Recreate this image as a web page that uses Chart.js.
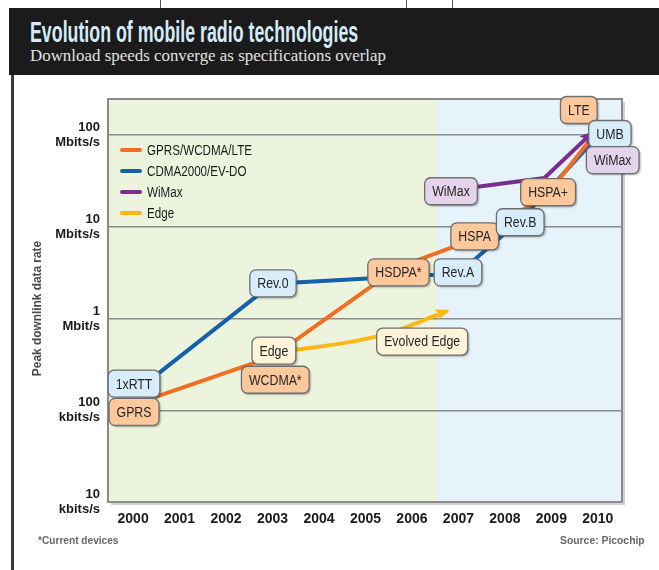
<!DOCTYPE html>
<html>
<head>
<meta charset="utf-8">
<script src="https://cdn.jsdelivr.net/npm/chart.js@4.4.1/dist/chart.umd.min.js"></script>
<style>
    html, body { margin: 0; padding: 0; background: #fff; }
    #page { position: relative; width: 659px; height: 570px; overflow: hidden; }
    #header { position: absolute; left: 9px; top: 8px; width: 650px; height: 67px; background: #1b1b1b; }
    #title { position: absolute; left: 21px; top: 7px; font: bold 30px "Liberation Sans", sans-serif;
        color: #d5ebf8; white-space: nowrap; transform-origin: left top; }
    #subtitle { position: absolute; left: 21px; top: 38px; font: 17px "Liberation Serif", serif; color: #e2e2e2;
        white-space: nowrap; transform-origin: left top; }
    #sidebar { position: absolute; left: 11px; top: 75px; width: 3px; height: 495px; background: #3a3a3a; }
    .crop { position: absolute; top: 0; width: 1px; height: 8px; background: #555; }
    #chartWrap { position: absolute; left: 0; top: 75px; width: 659px; height: 495px; }
    .note { position: absolute; top: 535px; font: bold 10px "Liberation Sans", sans-serif; color: #666; white-space: nowrap;
        transform-origin: left top; }
</style>
</head>
<body>
<div id="page">
    <div class="crop" style="left:160px"></div>
    <div class="crop" style="left:406px"></div>
    <div class="crop" style="left:452px"></div>
    <div id="header">
        <span id="title">Evolution of mobile radio technologies</span>
        <span id="subtitle">Download speeds converge as specifications overlap</span>
    </div>
    <div id="sidebar"></div>
    <div id="chartWrap"><canvas id="radioChart" width="659" height="495"></canvas></div>
    <span class="note" id="noteLeft" style="left:38px">*Current devices</span>
    <span class="note" id="noteRight" style="left:560px">Source: Picochip</span>
</div>
<script>
/* ==========================================================================
   Evolution of mobile radio technologies - data
   ========================================================================== */

const xYears = [2000, 2001, 2002, 2003, 2004, 2005, 2006, 2007, 2008, 2009, 2010];
const yTickValues = [10, 100, 1000, 10000, 100000];          // kbit/s
const yTickLabels = [['10', 'kbits/s'], ['100', 'kbits/s'], ['1', 'Mbit/s'], ['10', 'Mbits/s'], ['100', 'Mbits/s']];
const eraSplitYear = 2006.54;                                  // green (past) / blue (future) boundary

const seriesNames = ['GPRS/WCDMA/LTE', 'CDMA2000/EV-DO', 'WiMax', 'Edge'];

const gprsYears = [2000, 2003, 2005.7, 2007.3, 2008.9, 2009.88];
const gprsValues = [115, 384, 3600, 7200, 22000, 95000];

const cdmaYears = [2000, 2003, 2007, 2008.35, 2009.92];
const cdmaValues = [153, 2400, 3100, 12000, 88000];

const wimaxYears = [2006.84, 2008.85, 2009.85];
const wimaxValues = [25000, 34000, 103000];

const edgeYears = [2003, 2005.23, 2006.73];
const edgeValues = [420, 635, 1190];

// technology call-outs, anchored in data space
const boxLabels = ['1xRTT', 'GPRS', 'Rev.0', 'Edge', 'WCDMA*', 'HSDPA*', 'Rev.A', 'HSPA', 'WiMax', 'Rev.B', 'HSPA+', 'LTE', 'UMB', 'WiMax', 'Evolved Edge'];
const boxYears = [2000.02, 2000.02, 2003.01, 2003.03, 2003.06, 2005.71, 2006.99, 2007.35, 2006.84, 2008.33, 2008.93, 2009.59, 2010.26, 2010.32, 2006.22];
const boxValues = [195, 96, 2415, 446, 215, 3184, 3184, 7870, 24400, 11200, 23800, 187500, 102600, 53300, 561];
const boxSeries = ['cdma', 'gprs', 'cdma', 'edge', 'gprs', 'gprs', 'cdma', 'gprs', 'wimax', 'cdma', 'gprs', 'gprs', 'cdma', 'wimax', 'edge'];

/* ==========================================================================
   Styles
   ========================================================================== */

const COLORS = {
    gprs: '#f26f21',
    cdma: '#1560ad',
    wimax: '#7a2c8f',
    edge: '#fdb714',
    grid: '#8c8c8c',
    frame: '#8a8a8a',
    past: '#ecf4de',
    future: '#e7f3fb',
    text: '#1a1a1a'
};

const BOX_FILLS = { gprs: '#fcc89c', cdma: '#d8edfa', wimax: '#e4d4eb', edge: '#fff4da' };
const SANS = '"Liberation Sans", Arial, sans-serif';
const legendOrder = ['gprs', 'cdma', 'wimax', 'edge'];

const toPoints = (xs, ys) => xs.map((x, i) => ({ x: x, y: ys[i] }));

// the original uses a condensed face, so squeeze text horizontally
const condensedText = (ctx, text, x, y, squeeze) => {
    ctx.save();
    ctx.translate(x, y);
    ctx.scale(squeeze, 1);
    ctx.fillText(text, 0, 0);
    ctx.restore();
};

/* ==========================================================================
   Plugins
   ========================================================================== */

const backdropPlugin = {
    id: 'backdrop',
    beforeDraw(chart) {
        const { ctx, chartArea: a, scales } = chart;
        const split = scales.x.getPixelForValue(eraSplitYear);
        ctx.save();
        ctx.fillStyle = 'rgba(0,0,0,0.18)';
        ctx.fillRect(a.left + 3, a.top + 3, a.right - a.left, a.bottom - a.top);
        ctx.fillStyle = COLORS.past;
        ctx.fillRect(a.left, a.top, split - a.left, a.bottom - a.top);
        ctx.fillStyle = COLORS.future;
        ctx.fillRect(split, a.top, a.right - split, a.bottom - a.top);
        ctx.restore();
    },
    beforeDatasetsDraw(chart) {
        const { ctx, chartArea: a } = chart;
        ctx.save();
        ctx.strokeStyle = COLORS.frame;
        ctx.lineWidth = 2;
        ctx.strokeRect(a.left, a.top, a.right - a.left, a.bottom - a.top);
        // y axis title
        ctx.translate(38, (a.top + a.bottom) / 2 + 8);
        ctx.rotate(-Math.PI / 2);
        ctx.fillStyle = '#4a4a4a';
        ctx.font = 'bold 12.5px ' + SANS;
        ctx.textAlign = 'center';
        ctx.textBaseline = 'middle';
        condensedText(ctx, 'Peak downlink data rate', 0, 0, 0.95);
        ctx.restore();
    }
};

const roundRect = (ctx, x, y, w, h, r) => {
    ctx.beginPath();
    ctx.moveTo(x + r, y);
    ctx.arcTo(x + w, y, x + w, y + h, r);
    ctx.arcTo(x + w, y + h, x, y + h, r);
    ctx.arcTo(x, y + h, x, y, r);
    ctx.arcTo(x, y, x + w, y, r);
    ctx.closePath();
};

const calloutPlugin = {
    id: 'callouts',
    afterDatasetsDraw(chart) {
        const { ctx, chartArea: a, scales } = chart;
        ctx.save();

        // arrow heads on open-ended series
        chart.data.datasets.forEach((ds, i) => {
            if (!ds.arrow) return;
            const pts = chart.getDatasetMeta(i).data;
            const tip = pts[pts.length - 1];
            const from = ds.tension ? { x: tip.cp1x, y: tip.cp1y } : pts[pts.length - 2];
            const ang = Math.atan2(tip.y - from.y, tip.x - from.x);
            const c = Math.cos(ang), s = Math.sin(ang);
            const tx = tip.x + c * 4, ty = tip.y + s * 4;
            ctx.fillStyle = ds.borderColor;
            ctx.beginPath();
            ctx.moveTo(tx, ty);
            ctx.lineTo(tx - c * 14 + s * 6, ty - s * 14 - c * 6);
            ctx.lineTo(tx - c * 11, ty - s * 11);
            ctx.lineTo(tx - c * 14 - s * 6, ty - s * 14 + c * 6);
            ctx.closePath();
            ctx.fill();
        });

        // legend
        ctx.font = '14px ' + SANS;
        ctx.textBaseline = 'middle';
        ctx.textAlign = 'left';
        legendOrder.forEach((key, i) => {
            const y = a.top + 51 + i * 21;
            ctx.strokeStyle = COLORS[key];
            ctx.lineWidth = 4;
            ctx.lineCap = 'round';
            ctx.beginPath();
            ctx.moveTo(a.left + 14, y);
            ctx.lineTo(a.left + 32, y);
            ctx.stroke();
            ctx.fillStyle = COLORS.text;
            condensedText(ctx, seriesNames[i], a.left + 39, y + 1, 0.83);
        });

        // labelled boxes
        ctx.textAlign = 'center';
        boxLabels.forEach((label, i) => {
            const cx = scales.x.getPixelForValue(boxYears[i]);
            const cy = scales.y.getPixelForValue(boxValues[i]);
            const w = ctx.measureText(label).width * 0.88 + 15;
            const h = 27;
            ctx.save();
            ctx.shadowColor = 'rgba(0,0,0,0.35)';
            ctx.shadowBlur = 2;
            ctx.shadowOffsetX = 1.5;
            ctx.shadowOffsetY = 1.5;
            roundRect(ctx, cx - w / 2, cy - h / 2, w, h, 6);
            ctx.fillStyle = BOX_FILLS[boxSeries[i]];
            ctx.fill();
            ctx.restore();
            roundRect(ctx, cx - w / 2, cy - h / 2, w, h, 6);
            ctx.strokeStyle = '#6e6e6e';
            ctx.lineWidth = 1.3;
            ctx.stroke();
            ctx.fillStyle = '#262626';
            condensedText(ctx, label, cx, cy + 1, 0.88);
        });
        ctx.restore();
    }
};

/* ==========================================================================
   Chart
   ========================================================================== */

const createRadioChart = () => {
    const ctx = document.getElementById('radioChart').getContext('2d');

    const lineDefaults = { borderWidth: 4, pointRadius: 0, fill: false, tension: 0, borderCapStyle: 'round', borderJoinStyle: 'round' };

    return new Chart(ctx, {
        type: 'line',
        data: {
            datasets: [
                { ...lineDefaults, label: seriesNames[0], data: toPoints(gprsYears, gprsValues), borderColor: COLORS.gprs, order: 1 },
                { ...lineDefaults, label: seriesNames[1], data: toPoints(cdmaYears, cdmaValues), borderColor: COLORS.cdma, order: 3 },
                { ...lineDefaults, label: seriesNames[2], data: toPoints(wimaxYears, wimaxValues), borderColor: COLORS.wimax, order: 0, arrow: true },
                { ...lineDefaults, label: seriesNames[3], data: toPoints(edgeYears, edgeValues), borderColor: COLORS.edge, order: 2, arrow: true, tension: 0.4 }
            ]
        },
        options: {
            responsive: false,
            animation: false,
            layout: { padding: { left: 10, right: 37, top: 24, bottom: 38 } },
            scales: {
                x: {
                    type: 'linear',
                    min: 1999.46,
                    max: 2010.52,
                    afterBuildTicks: (axis) => { axis.ticks = xYears.map(v => ({ value: v })); },
                    afterFit: (axis) => { axis.height = 30; },
                    grid: { display: false, drawTicks: false },
                    border: { display: false },
                    ticks: {
                        color: COLORS.text,
                        padding: 9,
                        maxRotation: 0,
                        autoSkip: false,
                        font: { family: SANS, size: 14, weight: 'bold' },
                        callback: (value) => String(value)
                    }
                },
                y: {
                    type: 'logarithmic',
                    min: 10,
                    max: 247000,
                    afterBuildTicks: (axis) => { axis.ticks = yTickValues.map(v => ({ value: v })); },
                    afterFit: (axis) => { axis.width = 98; },
                    grid: { color: COLORS.grid, lineWidth: 1.5, drawTicks: false },
                    border: { display: false },
                    ticks: {
                        color: COLORS.text,
                        padding: 8,
                        autoSkip: false,
                        font: { family: SANS, size: 13, weight: 'bold', lineHeight: 1.15 },
                        callback: (value) => yTickLabels[yTickValues.indexOf(value)]
                    }
                }
            },
            plugins: {
                legend: { display: false },
                tooltip: { enabled: false }
            }
        },
        plugins: [backdropPlugin, calloutPlugin]
    });
};

// squeeze html text into the width it has in the original
const fitText = (id, width) => {
    const el = document.getElementById(id);
    el.style.display = 'inline-block';
    el.style.transform = 'scaleX(' + (width / el.offsetWidth) + ')';
};

fitText('title', 328);
fitText('subtitle', 356);
fitText('noteLeft', 80);
fitText('noteRight', 85);
createRadioChart();
</script>
</body>
</html>
